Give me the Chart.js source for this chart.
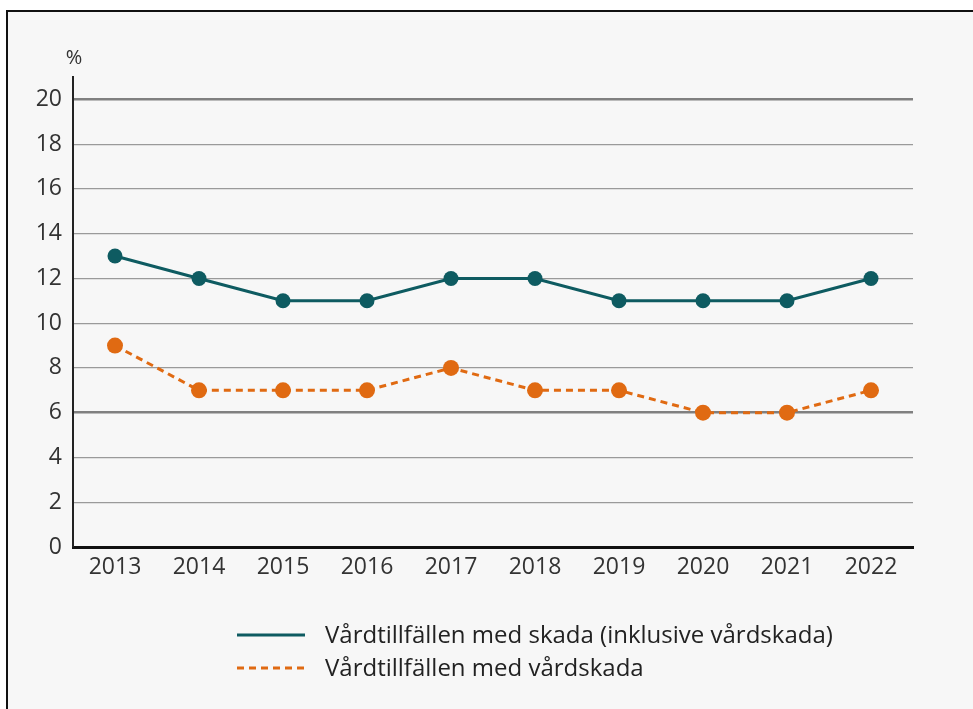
<!DOCTYPE html>
<html lang="sv">
<head>
<meta charset="UTF-8">
<title>Vårdtillfällen med skada</title>
<script src="https://cdn.jsdelivr.net/npm/chart.js"></script>
<style>
    html, body { margin: 0; padding: 0; background: #ffffff; }
    .frame {
        position: absolute; left: 6px; top: 10px;
        width: 1000px; height: 720px;
        border: 2px solid #111;
        background: #f7f7f7;
    }
    .wrap { position: absolute; left: 0; top: 0; width: 973px; height: 709px; }
</style>
</head>
<body>
<div class="frame"></div>
<div class="wrap"><canvas id="chart"></canvas></div>
<script>
    const years = ['2013', '2014', '2015', '2016', '2017', '2018', '2019', '2020', '2021', '2022'];
    const skadaInkl = [13, 12, 11, 11, 12, 12, 11, 11, 11, 12];
    const vardskada = [9, 7, 7, 7, 8, 7, 7, 6, 6, 7];
    const yTicks = [0, 2, 4, 6, 8, 10, 12, 14, 16, 18, 20];
    const labelInkl = 'Vårdtillfällen med skada (inklusive vårdskada)';
    const labelVard = 'Vårdtillfällen med vårdskada';

    const teal = '#0e5b61';
    const orange = '#e06a12';
    const font = '"Open Sans", "Noto Sans", sans-serif';

    // "%" above the y axis and the legend below the chart
    const extras = {
        id: 'extras',
        afterDraw(chart) {
            const c = chart.ctx;
            const y = chart.scales.y;
            c.save();
            c.fillStyle = '#333';
            c.font = '20px ' + font;
            c.textAlign = 'center';
            c.textBaseline = 'middle';
            c.fillText('%', y.right + 1, 58);

            c.textAlign = 'left';
            c.font = '24px ' + font;
            chart.data.datasets.forEach((ds, i) => {
                const ly = 635 + i * 33;
                c.strokeStyle = ds.borderColor;
                c.lineWidth = 3;
                c.setLineDash(ds.borderDash || []);
                c.beginPath();
                c.moveTo(237, ly);
                c.lineTo(305, ly);
                c.stroke();
                c.setLineDash([]);
                c.fillStyle = '#222';
                c.fillText(ds.label, 325, ly + 1);
            });
            c.restore();
        }
    };

    new Chart(document.getElementById('chart'), {
        type: 'line',
        data: {
            labels: years,
            datasets: [
                {
                    label: labelInkl,
                    data: skadaInkl,
                    borderColor: teal,
                    backgroundColor: teal,
                    borderWidth: 3,
                    pointRadius: 7.5,
                    pointHoverRadius: 7.5,
                    pointBorderWidth: 0
                },
                {
                    label: labelVard,
                    data: vardskada,
                    borderColor: orange,
                    backgroundColor: orange,
                    borderWidth: 3,
                    borderDash: [7, 5],
                    pointRadius: 8,
                    pointHoverRadius: 8,
                    pointBorderWidth: 0
                }
            ]
        },
        options: {
            responsive: true,
            maintainAspectRatio: false,
            animation: false,
            layout: { padding: { left: 13, right: 60, top: 77, bottom: 122 } },
            plugins: {
                legend: { display: false },
                tooltip: { enabled: false }
            },
            scales: {
                x: {
                    offset: true,
                    afterFit(s) { s.height = 40; },
                    grid: { display: false, drawTicks: false },
                    border: { display: true, color: '#111', width: 3 },
                    ticks: { color: '#333', font: { family: font, size: 23 }, padding: 7 }
                },
                y: {
                    min: 0,
                    max: 21,
                    afterBuildTicks(s) {
                        s.ticks = yTicks.map(v => ({ value: v }));
                    },
                    afterFit(s) { s.width = 60; },
                    grid: {
                        drawTicks: false,
                        color: ctx => (ctx.tick && (ctx.tick.value === 20 || ctx.tick.value === 6)) ? '#808080' : '#9a9a9a',
                        lineWidth: ctx => (ctx.tick && (ctx.tick.value === 20 || ctx.tick.value === 6)) ? 2.5 : 1.2
                    },
                    border: { display: true, color: '#222', width: 2 },
                    ticks: { color: '#333', font: { family: font, size: 23 }, padding: 11 }
                }
            }
        },
        plugins: [extras]
    });
</script>
</body>
</html>
